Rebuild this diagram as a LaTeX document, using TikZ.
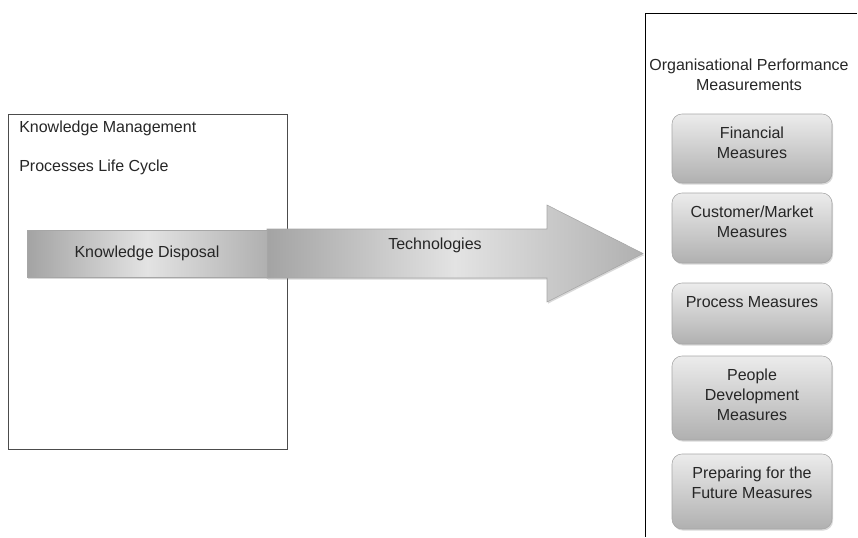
\documentclass[tikz,border=0pt]{standalone}
\usepackage{fontspec}
\setmainfont{Liberation Sans}
\usetikzlibrary{positioning,shadows}

\begin{document}
\begin{tikzpicture}[x=0.75pt,y=-0.75pt]
        \tikzstyle{every node} = [rectangle, inner sep=0pt, text=black!85, font=\fontsize{12}{15}\selectfont]
        \tikzstyle{measure} = [draw=gray!70, rounded corners=7.5pt, top color=gray!15, bottom color=gray!62,
            minimum width=120pt, drop shadow={shadow xshift=0.8pt, shadow yshift=-1.2pt, opacity=0.3}]
        \tikzstyle{metal} = [draw=gray!70, left color=gray!72, right color=gray!62, middle color=gray!22,
            drop shadow={shadow xshift=0.8pt, shadow yshift=-1.2pt, opacity=0.3}]
        \useasboundingbox (0,0) rectangle (858,537);

        % knowledge management side
        \node[draw=black!70, anchor=north west, minimum width=209.25pt, minimum height=251.25pt] (kmframe) at (8,114) {};
        \node[anchor=base west] (kmtitle) at (19,132) {Knowledge Management};
        \node[anchor=base west] (kmcycle) at (19,171) {Processes Life Cycle};

        % technologies arrow
        \draw[metal] (267,229) -- (547,229) -- (547,205) -- (643,253.5) -- (547,302) -- (547,278) -- (267,278) -- cycle;
        \node[anchor=base] (tech) at (435,249) {Technologies};
        \node[metal, minimum width=180pt, minimum height=35.25pt] (disposal) at (147,253.5) {Knowledge Disposal};

        % performance measurements side
        \draw[black, line width=0.75pt] (857,13) -- (645,13) -- (645,537);
        \node[align=center, anchor=north] (opm) at (749,59) {Organisational Performance\\Measurements};

        \foreach \bx/\yc/\hgt/\txt in {fin/148.5/69/{Financial\\Measures}, cust/228/70/{Customer/Market\\Measures},
            proc/313.5/61/{Process Measures}, ppl/398/84/{People\\Development\\Measures},
            prep/491.5/75/{Preparing for the\\Future Measures}}
        {
            \node[measure, minimum height=\hgt*0.75pt] (\bx) at (752,\yc) {};
            \node[align=center, below=10pt of \bx.north] (\bx-txt) {\txt};
        }
    \end{tikzpicture}
\end{document}
